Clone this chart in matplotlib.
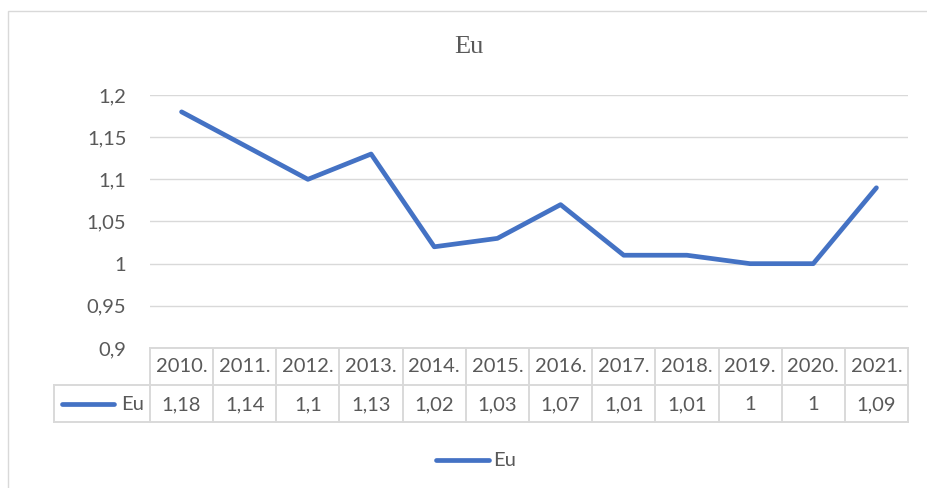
import matplotlib.pyplot as plt
from matplotlib.transforms import blended_transform_factory
from matplotlib.patches import Rectangle
from matplotlib.lines import Line2D

# podaci
years = ["2010.", "2011.", "2012.", "2013.", "2014.", "2015.",
         "2016.", "2017.", "2018.", "2019.", "2020.", "2021."]
eu = [1.18, 1.14, 1.1, 1.13, 1.02, 1.03, 1.07, 1.01, 1.01, 1.0, 1.0, 1.09]
eu_labels = ["1,18", "1,14", "1,1", "1,13", "1,02", "1,03",
             "1,07", "1,01", "1,01", "1", "1", "1,09"]
yticks = [0.9, 0.95, 1.0, 1.05, 1.1, 1.15, 1.2]
ytick_labels = ["0,9", "0,95", "1", "1,05", "1,1", "1,15", "1,2"]

W, H = 928, 488
blue = "#4472C4"
grid = "#d9d9d9"
txt = "#595959"
fs = 14.5
plt.rcParams['font.family'] = ['Lato', 'DejaVu Sans']


def fy(p):
    # piksel od vrha -> udio figure
    return (H - p) / H


fig = plt.figure(figsize=(W / 100, H / 100), dpi=100)
fig.patch.set_facecolor("white")
fig.add_artist(Rectangle((8 / W, -0.1), 1.2, fy(11) + 0.1, transform=fig.transFigure,
                         facecolor="none", edgecolor=grid, lw=1.0))

ax = fig.add_axes([150 / W, fy(348), (908 - 150) / W, (348 - 95) / H])
x = list(range(len(years)))
ax.plot(x, eu, color=blue, lw=3.4, solid_capstyle="round", solid_joinstyle="round", zorder=3)
ax.set_xlim(-0.5, len(years) - 0.5)
ax.set_ylim(0.9, 1.2)
ax.set_yticks(yticks)
ax.set_yticklabels(ytick_labels, fontsize=fs, color=txt)
ax.tick_params(axis="y", length=0, pad=17)
ax.set_xticks([])
for s in ax.spines.values():
    s.set_visible(False)
ax.grid(axis="y", color=grid, lw=1.0)
ax.set_axisbelow(True)

fig.text(469 / W, fy(47), "Eu", ha="center", va="center", fontsize=19,
         color=txt, family="Liberation Serif")

# tablica podataka
tr = blended_transform_factory(ax.transData, fig.transFigure)
ft = fig.transFigure
tl = 1.4
n = len(years)
for i in range(n + 1):
    fig.add_artist(Line2D([i - 0.5, i - 0.5], [fy(348), fy(422)], transform=tr, color=grid, lw=tl))
fig.add_artist(Line2D([-0.5, n - 0.5], [fy(348), fy(348)], transform=tr, color=grid, lw=tl))
for yy in (385, 422):
    fig.add_artist(Line2D([54 / W, 908 / W], [fy(yy), fy(yy)], transform=ft, color=grid, lw=tl))
fig.add_artist(Line2D([54 / W, 54 / W], [fy(385), fy(422)], transform=ft, color=grid, lw=tl))

for i in range(n):
    fig.text(i, fy(367), years[i], transform=tr, ha="center", va="center", fontsize=fs, color=txt)
    fig.text(i, fy(405), eu_labels[i], transform=tr, ha="center", va="center", fontsize=fs, color=txt)

fig.add_artist(Line2D([62 / W, 114 / W], [fy(404), fy(404)], transform=ft, color=blue, lw=3.4,
                      solid_capstyle="round"))
fig.text(144 / W, fy(405), "Eu", ha="right", va="center", fontsize=fs, color=txt)

# legenda
fig.add_artist(Line2D([436 / W, 489 / W], [fy(460), fy(460)], transform=ft, color=blue, lw=3.4,
                      solid_capstyle="round"))
fig.text(493 / W, fy(461), "Eu", ha="left", va="center", fontsize=fs, color=txt)

plt.savefig("out.png", dpi=100)
